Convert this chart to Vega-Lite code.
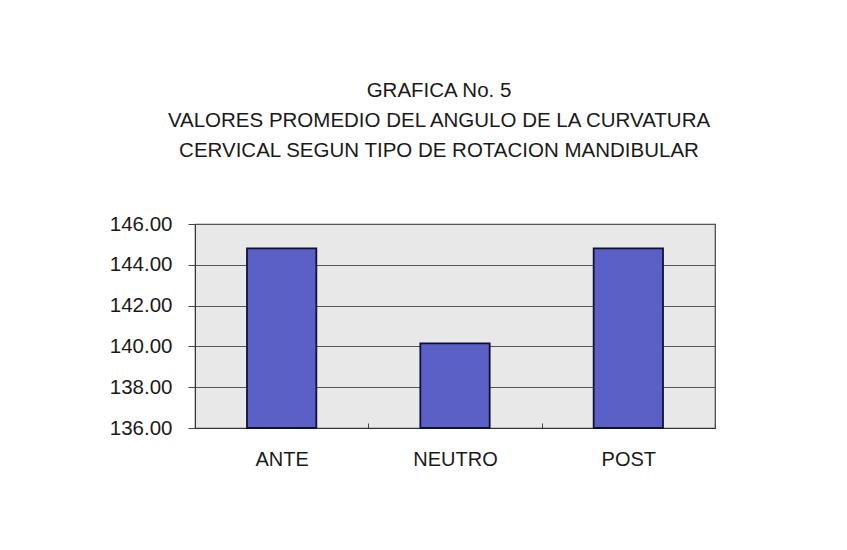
{
  "$schema": "https://vega.github.io/schema/vega-lite/v6.json",
  "width": 520,
  "height": 204,
  "autosize": {"type": "none"},
  "padding": {"left": 195, "top": 224, "right": 132, "bottom": 122},
  "background": "#ffffff",
  "title": {
    "text": [
      "GRAFICA No. 5",
      "VALORES PROMEDIO DEL ANGULO DE LA CURVATURA",
      "CERVICAL SEGUN TIPO DE ROTACION MANDIBULAR"
    ],
    "anchor": "middle",
    "dx": -16,
    "offset": 53,
    "font": "Liberation Sans",
    "fontSize": 20.5,
    "fontWeight": "normal",
    "lineHeight": 30,
    "color": "#1a1a1a"
  },
  "data": {
    "values": [
      {"rotacion": "ANTE", "angulo": 144.81},
      {"rotacion": "NEUTRO", "angulo": 140.15},
      {"rotacion": "POST", "angulo": 144.81}
    ]
  },
  "mark": {
    "type": "bar",
    "width": {"band": 0.4},
    "color": "#5a60c6",
    "stroke": "#111133",
    "strokeWidth": 1.8
  },
  "encoding": {
    "x": {
      "field": "rotacion",
      "type": "nominal",
      "sort": null,
      "scale": {"paddingInner": 0, "paddingOuter": 0},
      "axis": {
        "title": null,
        "labelAngle": 0,
        "labelFont": "Liberation Sans",
        "labelFontSize": 20,
        "labelColor": "#1a1a1a",
        "labelPadding": 26,
        "tickBand": "extent",
        "tickSize": -5,
        "tickColor": "#444444",
        "domainColor": "#333333",
        "grid": false
      }
    },
    "y": {
      "field": "angulo",
      "type": "quantitative",
      "scale": {"domain": [136, 146], "zero": false, "nice": false},
      "axis": {
        "title": null,
        "values": [136, 138, 140, 142, 144, 146],
        "format": ".2f",
        "labelFont": "Liberation Sans",
        "labelFontSize": 20.5,
        "labelColor": "#1a1a1a",
        "labelPadding": 16,
        "tickSize": 7,
        "tickColor": "#444444",
        "domainColor": "#333333",
        "grid": true,
        "gridColor": "#555555",
        "gridWidth": 1.2
      }
    },
    "y2": {"datum": 136}
  },
  "config": {
    "view": {"stroke": "#444444", "strokeWidth": 1.2, "fill": "#e8e8e8"}
  }
}
